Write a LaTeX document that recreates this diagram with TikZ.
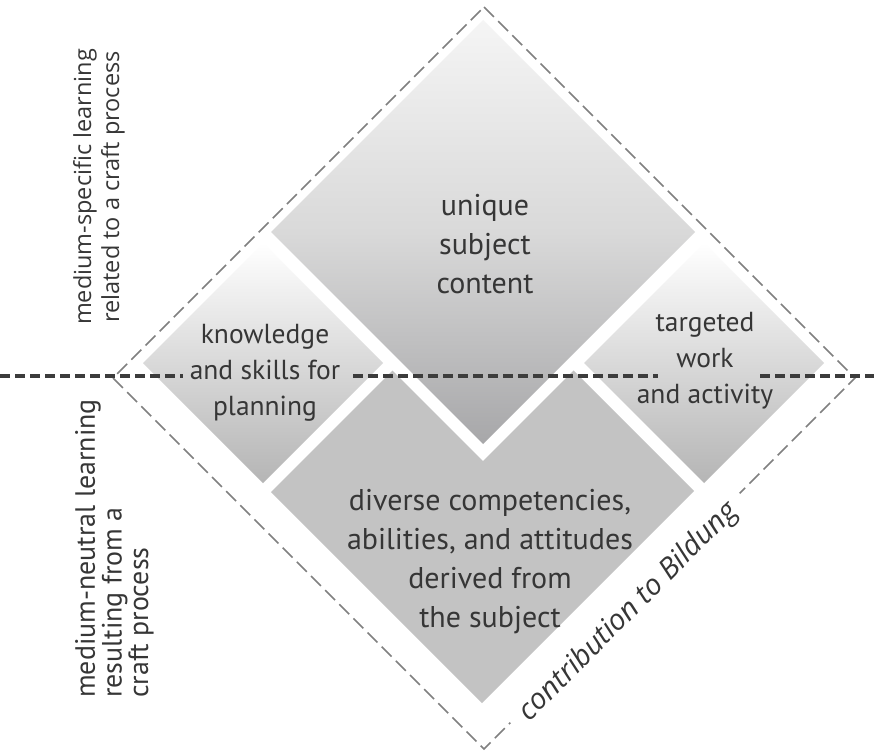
\documentclass[tikz,border=0pt]{standalone}
\usepackage{fontspec}
\setmainfont{PT Sans}
\newfontfamily\sidefont{Open Sans}
\usetikzlibrary{calc}
\definecolor{tilegray}{HTML}{C3C3C3}
\definecolor{tiledark}{HTML}{A7A7A9}
\definecolor{tilemid}{HTML}{D9D9D9}
\definecolor{tilesoft}{HTML}{B5B5B5}
\definecolor{edgegray}{HTML}{808080}
\definecolor{linegray}{HTML}{3C3C3C}
\definecolor{textgray}{HTML}{363636}

\begin{document}
\begin{tikzpicture}[x=1pt,y=-1pt]
    \tikzset{
      tile/.style={
        preaction={draw=white, line width=24pt, line join=miter},
      },
      lbl/.style={
        align=center,
        text=textgray,
        font=\fontsize{30}{39}\selectfont,
        % inner sep=0pt,
      },
      small/.style={
        lbl,
        font=\fontsize{27.5}{36}\selectfont,
      },
      side/.style={
        rotate=90,
        text=textgray,
        inner sep=0pt,
      }
    }
    \tikzstyle{outline} = [draw=edgegray, line width=1.6pt, dash pattern=on 14pt off 6pt]
    \tikzstyle{divide} = [draw=linegray, line width=4pt, dash pattern=on 10pt off 5pt]

    \useasboundingbox (0,0) rectangle (874,751);

    \pgfmathsetmacro{\R}{371}  % outer frame
    \pgfmathsetmacro{\B}{212}  % big tiles
    \pgfmathsetmacro{\S}{120}  % small tiles

    \coordinate (o)      at (484,378);
    \coordinate (ctop)   at (483,232);
    \coordinate (cbot)   at (482,491);
    \coordinate (cleft)  at (263,363);
    \coordinate (cright) at (704,363);

    % bottom tile
    \fill[tilegray]
        ($(cbot)+(0,-\B)$) -- ++(\B,\B) -- ++(-\B,\B) -- ++(-\B,-\B) -- cycle;

    % small tiles
    \shade[tile, top color=white, bottom color=tilesoft, middle color=tilemid]
        ($(cleft)+(0,-\S)$) -- ++(\S,\S) -- ++(-\S,\S) -- ++(-\S,-\S) -- cycle;
    \shade[tile, top color=white, bottom color=tilesoft, middle color=tilemid]
        ($(cright)+(0,-\S)$) -- ++(\S,\S) -- ++(-\S,\S) -- ++(-\S,-\S) -- cycle;

    % top tile
    \shade[tile, top color=white!96!black, bottom color=tiledark, middle color=tilemid]
        ($(ctop)+(0,-\B)$) -- ++(\B,\B) -- ++(-\B,\B) -- ++(-\B,-\B) -- cycle;

    % outer frame
    \coordinate (ot) at ($(o)+(0,-\R)$);
    \coordinate (or) at ($(o)+(\R,0)$);
    \coordinate (ob) at ($(o)+(0,\R)$);
    \coordinate (ol) at ($(o)+(-\R,0)$);
    \draw[outline] (ot) -- (or) -- (ob) -- (ol) -- cycle;

    % split line
    \draw[divide] (0,376) -- (183,376)
                  (353,376) -- (658,376)
                  (760,376) -- (874,376);

    % tile texts
    \node[lbl]   (unique)  at (485,244) {unique\\subject\\content};
    \node[small] (plan)    at (265,373) {knowledge\\and skills for\\planning};
    \node[small] (work)    at (705,361) {targeted\\work\\and activity};
    \node[lbl]   (diverse) at (490,562) {diverse competencies,\\abilities, and attitudes\\derived from\\the subject};

    % side texts
    \node[side, align=center, font=\sidefont\fontsize{23.5}{28}\selectfont] (specific) at (99,187)
        {medium-specific learning\\related to a craft process};
    \node[side, align=left, anchor=north west, font=\fontsize{27.9}{24.5}\selectfont] (neutral) at (75,698)
        {medium-neutral learning\\resulting from a\\craft process};

    \node[rotate=45, fill=white, inner xsep=14pt, inner ysep=3pt, text=textgray,
          font=\sidefont\itshape\fontsize{29}{32}\selectfont] (bildung)
        at ($(ob)!0.38!(or) + (4,4)$) {contribution to Bildung};
\end{tikzpicture}
\end{document}
